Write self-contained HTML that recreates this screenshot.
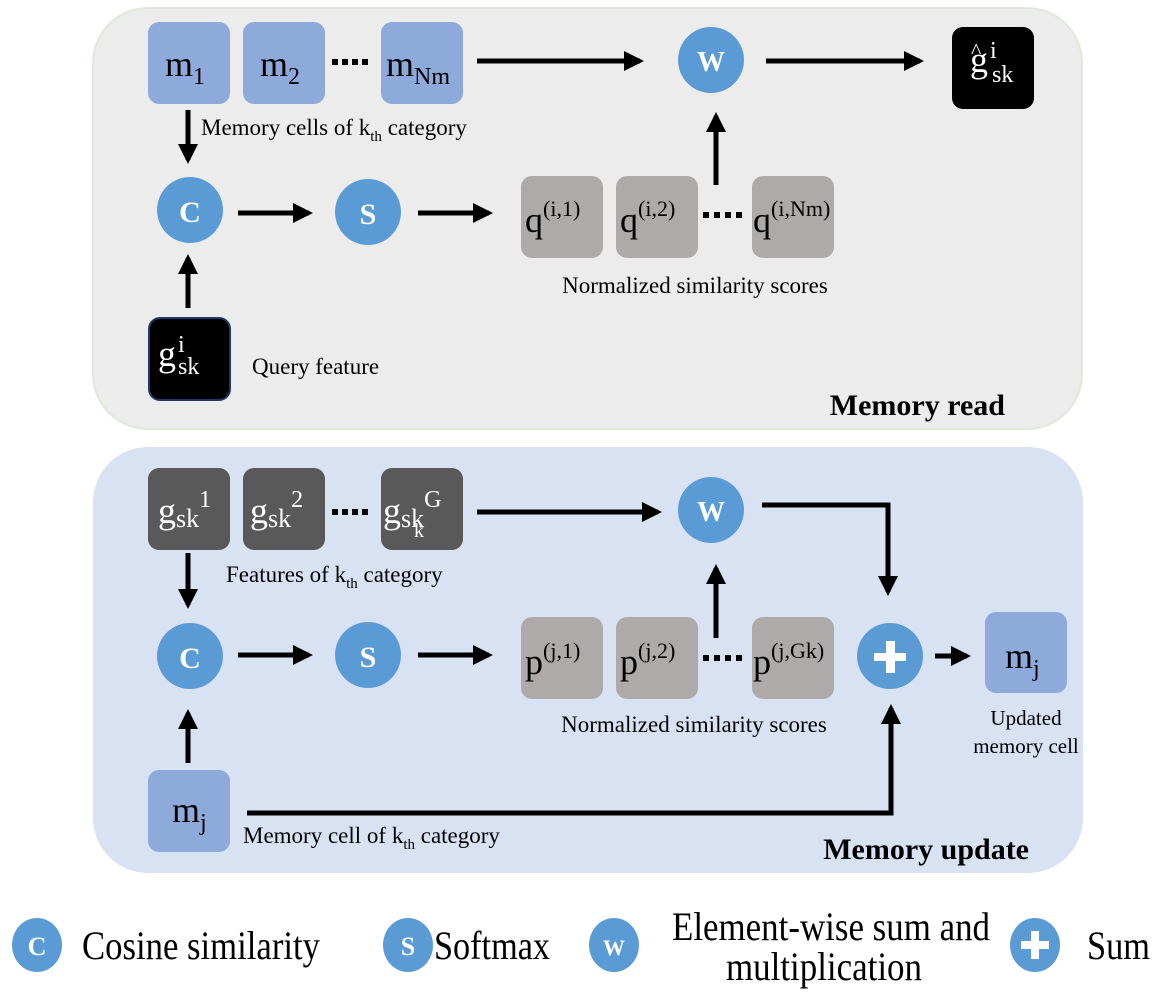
<!DOCTYPE html>
<html><head><meta charset="utf-8"><style>
html,body{margin:0;padding:0;background:#fff;}
svg{display:block;font-family:"Liberation Serif",serif;}
</style></head><body>
<svg width="1165" height="993" viewBox="0 0 1165 993" xmlns="http://www.w3.org/2000/svg" font-family="Liberation Serif, serif">
<defs>
<marker id="ah" markerWidth="4" markerHeight="4" refX="3.2" refY="2" orient="auto" markerUnits="strokeWidth">
<path d="M0,0 L4,2 L0,4 z" fill="#000"/></marker>
</defs>
<rect x="93" y="8" width="989" height="421" rx="55" fill="#ececec" stroke="#e0e8dc" stroke-width="2"/>
<rect x="93" y="447" width="990" height="426" rx="55" fill="#d9e2f3"/>

<g stroke="#000" stroke-width="5" fill="none">
<line x1="477" y1="61" x2="640" y2="61" marker-end="url(#ah)"/>
<line x1="766" y1="61" x2="920" y2="61" marker-end="url(#ah)"/>
<line x1="188" y1="110" x2="188" y2="160" marker-end="url(#ah)"/>
<line x1="238" y1="213" x2="309" y2="213" marker-end="url(#ah)"/>
<line x1="418" y1="213" x2="489" y2="213" marker-end="url(#ah)"/>
<line x1="716" y1="185" x2="716" y2="116" marker-end="url(#ah)"/>
<line x1="188" y1="308" x2="188" y2="258" marker-end="url(#ah)"/>
<line x1="477" y1="512" x2="658" y2="512" marker-end="url(#ah)"/>
<polyline points="762,505 888,505 888,592" marker-end="url(#ah)"/>
<line x1="935" y1="656" x2="967" y2="656" marker-end="url(#ah)"/>
<line x1="188" y1="553" x2="188" y2="605" marker-end="url(#ah)"/>
<line x1="238" y1="655" x2="309" y2="655" marker-end="url(#ah)"/>
<line x1="418" y1="655" x2="489" y2="655" marker-end="url(#ah)"/>
<line x1="716" y1="638" x2="716" y2="568" marker-end="url(#ah)"/>
<line x1="188" y1="763" x2="188" y2="713" marker-end="url(#ah)"/>
<polyline points="247,813 891,813 891,708" marker-end="url(#ah)"/>
</g>

<g fill="#8eaadb">
<rect x="148" y="22" width="82" height="82" rx="11"/>
<rect x="243" y="22" width="82" height="82" rx="11"/>
<rect x="381" y="22" width="82" height="82" rx="11"/>
<rect x="985" y="612" width="82" height="81" rx="11"/>
<rect x="148" y="770" width="82" height="82" rx="11"/>
</g>
<g fill="#aeaaaa">
<rect x="521" y="176" width="82" height="82" rx="11"/>
<rect x="616" y="176" width="82" height="82" rx="11"/>
<rect x="752" y="176" width="82" height="82" rx="11"/>
<rect x="521" y="617" width="82" height="82" rx="11"/>
<rect x="616" y="617" width="82" height="82" rx="11"/>
<rect x="752" y="617" width="82" height="82" rx="11"/>
</g>
<g fill="#595959">
<rect x="148" y="468" width="82" height="82" rx="11"/>
<rect x="243" y="468" width="82" height="82" rx="11"/>
<rect x="381" y="468" width="82" height="82" rx="11"/>
</g>
<rect x="952" y="27" width="82" height="82" rx="11" fill="#000"/>
<rect x="149" y="318" width="81" height="82" rx="11" fill="#000" stroke="#1f3864" stroke-width="2"/>

<g fill="#000">
<rect x="332" y="59" width="6" height="6"/><rect x="342" y="59" width="6" height="6"/><rect x="352" y="59" width="6" height="6"/><rect x="362" y="59" width="6" height="6"/>
<rect x="703" y="212" width="6" height="6"/><rect x="714" y="212" width="6" height="6"/><rect x="725" y="212" width="6" height="6"/><rect x="736" y="212" width="6" height="6"/>
<rect x="332" y="509" width="6" height="6"/><rect x="342" y="509" width="6" height="6"/><rect x="352" y="509" width="6" height="6"/><rect x="362" y="509" width="6" height="6"/>
<rect x="703" y="655" width="6" height="6"/><rect x="714" y="655" width="6" height="6"/><rect x="725" y="655" width="6" height="6"/><rect x="736" y="655" width="6" height="6"/>
</g>

<g fill="#5b9bd5">
<circle cx="711" cy="60" r="33"/><circle cx="190" cy="210" r="33"/><circle cx="368" cy="212" r="33"/>
<circle cx="711" cy="510" r="33"/><circle cx="190" cy="656" r="33"/><circle cx="368" cy="655" r="33"/><circle cx="890" cy="656" r="33"/>
<ellipse cx="37" cy="945" rx="25" ry="27"/><ellipse cx="408" cy="945" rx="25" ry="27"/><ellipse cx="614" cy="945" rx="25" ry="27"/><ellipse cx="1035" cy="945" rx="25" ry="27"/>
</g>
<g fill="#fff" font-weight="bold" text-anchor="middle">
<text x="711" y="71" font-size="28">W</text>
<text x="190" y="222" font-size="30">C</text>
<text x="368" y="224" font-size="30">S</text>
<text x="711" y="521" font-size="28">W</text>
<text x="190" y="668" font-size="30">C</text>
<text x="368" y="667" font-size="30">S</text>
<text x="37" y="955" font-size="26">C</text>
<text x="408" y="955" font-size="26">S</text>
<text x="614" y="955" font-size="22">W</text>
</g>
<g fill="#fff">
<rect x="886" y="641" width="9" height="32"/><rect x="874" y="653" width="32" height="8"/>
<rect x="1031" y="931" width="8" height="28"/><rect x="1021" y="941" width="28" height="8"/>
</g>

<g font-size="36" fill="#000">
<text x="165" y="76">m<tspan font-size="24" dy="8">1</tspan></text>
<text x="260" y="76">m<tspan font-size="24" dy="8">2</tspan></text>
<text x="386" y="76">m<tspan font-size="24" dy="8">Nm</tspan></text>
<text x="525" y="232">q<tspan font-size="22" dy="-16">(i,1)</tspan></text>
<text x="620" y="232">q<tspan font-size="22" dy="-16">(i,2)</tspan></text>
<text x="753" y="232">q<tspan font-size="22" dy="-16">(i,Nm)</tspan></text>
<text x="525" y="674">p<tspan font-size="22" dy="-16">(j,1)</tspan></text>
<text x="620" y="674">p<tspan font-size="22" dy="-16">(j,2)</tspan></text>
<text x="753" y="674">p<tspan font-size="22" dy="-16">(j,Gk)</tspan></text>
<text x="1005" y="668">m<tspan font-size="24" dy="8">j</tspan></text>
<text x="172" y="822">m<tspan font-size="24" dy="8">j</tspan></text>
</g>
<g font-size="36" fill="#fff">
<text x="970" y="72">g</text><text x="971" y="58" font-size="22">^</text>
<text x="990" y="58" font-size="24">i</text><text x="992" y="82" font-size="24">sk</text>
<text x="158" y="366">g</text><text x="178" y="352" font-size="24">i</text><text x="178" y="374" font-size="24">sk</text>
<text x="158" y="523">g<tspan font-size="26" dy="4">sk</tspan><tspan font-size="24" dy="-20">1</tspan></text>
<text x="250" y="523">g<tspan font-size="26" dy="4">sk</tspan><tspan font-size="24" dy="-20">2</tspan></text>
<text x="383" y="523">g<tspan font-size="26" dy="4">sk</tspan><tspan font-size="24" dy="-20">G</tspan></text>
<text x="414" y="537" font-size="20">k</text>
</g>

<g font-size="23" fill="#000">
<text x="201" y="135">Memory cells of k<tspan font-size="15" dy="6">th</tspan><tspan dy="-6"> category</tspan></text>
<text x="252" y="374">Query feature</text>
<text x="695" y="293" text-anchor="middle">Normalized similarity scores</text>
<text x="226" y="582">Features of k<tspan font-size="15" dy="6">th</tspan><tspan dy="-6"> category</tspan></text>
<text x="694" y="732" text-anchor="middle">Normalized similarity scores</text>
<text x="243" y="843">Memory cell of k<tspan font-size="15" dy="6">th</tspan><tspan dy="-6"> category</tspan></text>
<text x="1026" y="725" text-anchor="middle" font-size="21">Updated</text>
<text x="1026" y="753" text-anchor="middle" font-size="21">memory cell</text>
</g>
<text x="1005" y="415" font-size="30" font-weight="bold" text-anchor="end">Memory read</text>
<text x="1029" y="859" font-size="30" font-weight="bold" text-anchor="end">Memory update</text>

<g font-size="40" fill="#000">
<text x="82" y="959" textLength="238" lengthAdjust="spacingAndGlyphs">Cosine similarity</text>
<text x="434" y="959" textLength="116" lengthAdjust="spacingAndGlyphs">Softmax</text>
<text x="672" y="940" textLength="318" lengthAdjust="spacingAndGlyphs">Element-wise sum and</text>
<text x="726" y="980" textLength="196" lengthAdjust="spacingAndGlyphs">multiplication</text>
<text x="1087" y="959" textLength="63" lengthAdjust="spacingAndGlyphs">Sum</text>
</g>
</svg>
</body></html>
